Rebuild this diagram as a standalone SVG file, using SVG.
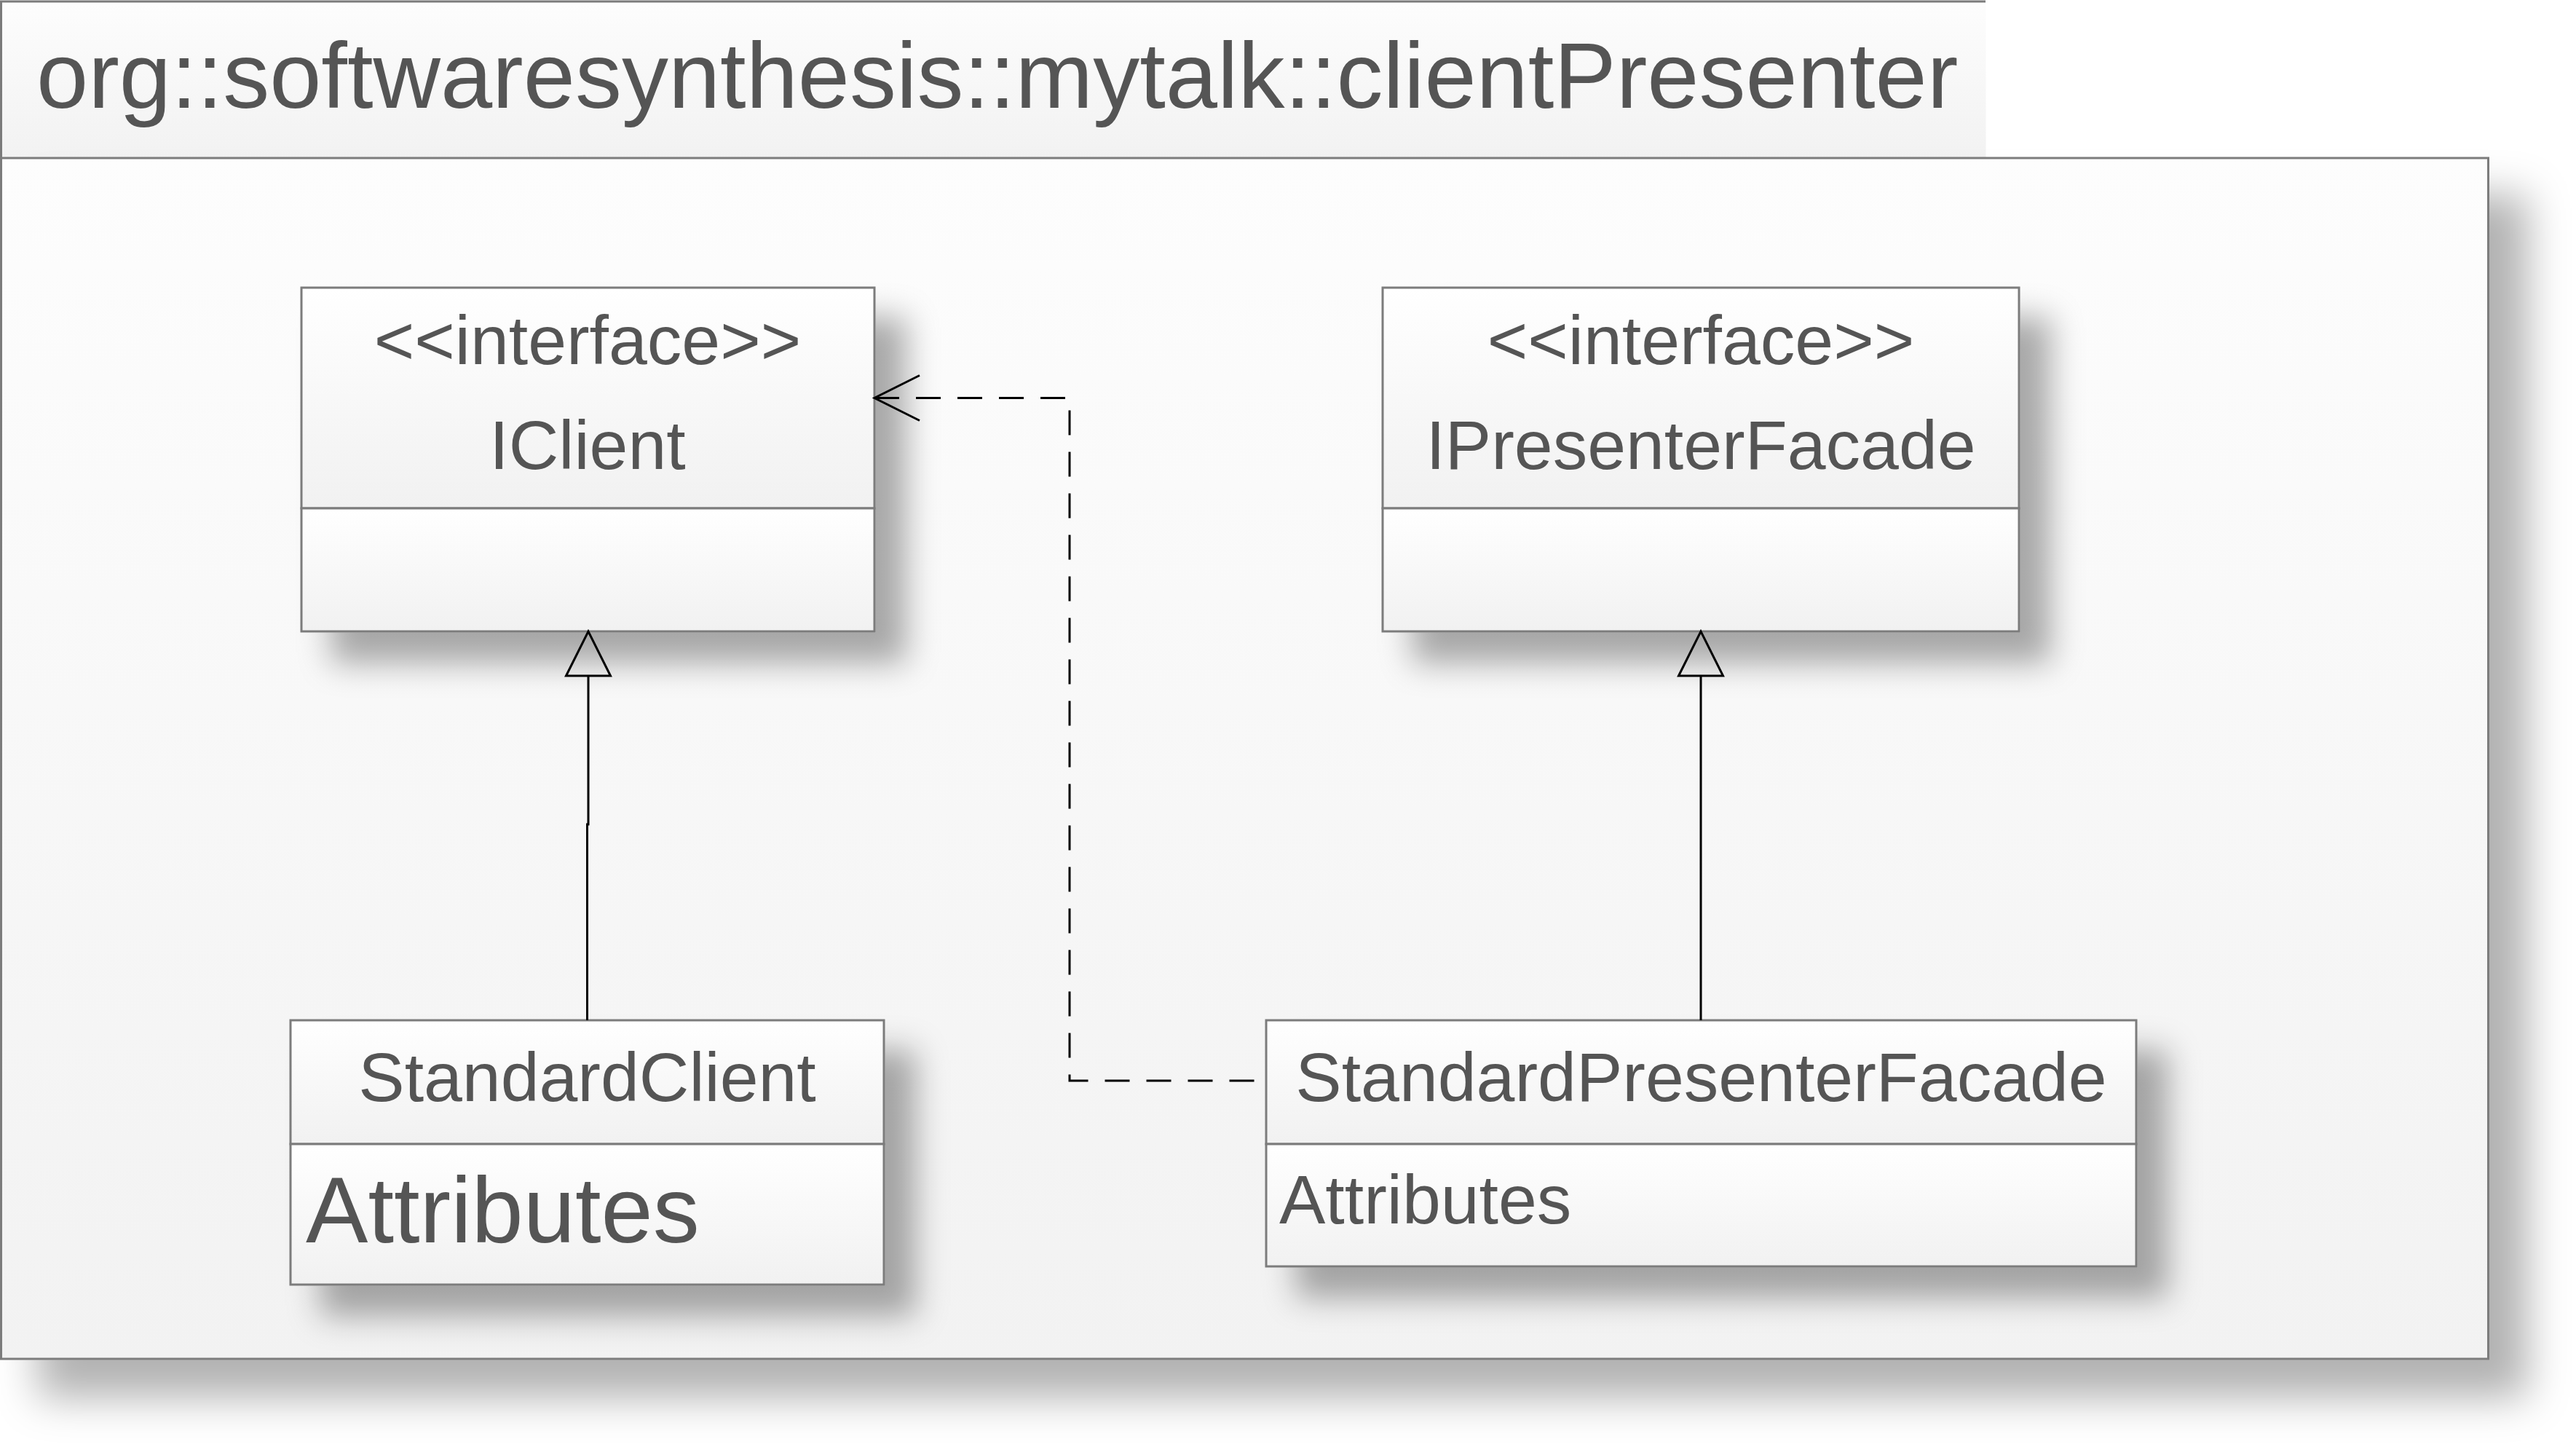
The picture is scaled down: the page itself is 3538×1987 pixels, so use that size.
<svg xmlns="http://www.w3.org/2000/svg" width="3538" height="1987" viewBox="0 0 3538 1987">
<defs>
  <style>
    .t { font-family: "Liberation Sans", Arial, sans-serif; fill: #555555; }
    .c { text-anchor: middle; font-size: 95px; }
    .box { fill: url(#gbox); stroke: #7b7b7b; stroke-width: 3; }
    .conn { fill: none; stroke: #000; stroke-width: 3; }
  </style>
  <linearGradient id="gbox" x1="0" y1="0" x2="0" y2="1">
    <stop offset="0" stop-color="#ffffff"/>
    <stop offset="1" stop-color="#f1f1f1"/>
  </linearGradient>
  <linearGradient id="gpkg" x1="0" y1="0" x2="0" y2="1">
    <stop offset="0" stop-color="#fdfdfd"/>
    <stop offset="1" stop-color="#f2f2f2"/>
  </linearGradient>
  <filter id="shBox" x="-20%" y="-20%" width="170%" height="200%">
    <feDropShadow dx="42" dy="42" stdDeviation="22" flood-color="#000" flood-opacity="0.33"/>
  </filter>
  <filter id="shPkg" x="-5%" y="-5%" width="115%" height="125%">
    <feDropShadow dx="52" dy="52" stdDeviation="28" flood-color="#000" flood-opacity="0.3"/>
  </filter>
  <marker id="triangle" markerUnits="userSpaceOnUse" viewBox="-3 -34 68 68" markerWidth="68" markerHeight="68" refX="0" refY="0" orient="auto" overflow="visible">
    <path d="M0 -30.5 L61 0 L0 30.5 Z" fill="none" stroke="#000" stroke-width="3" stroke-linejoin="miter"/>
  </marker>
  <marker id="openArrow" markerUnits="userSpaceOnUse" viewBox="-3 -34 68 68" markerWidth="68" markerHeight="68" refX="0" refY="0" orient="auto" overflow="visible">
    <path d="M62 -31 L0 0 L62 31" fill="none" stroke="#000" stroke-width="3"/>
  </marker>
</defs>

<rect x="0" y="0" width="3538" height="1987" fill="#ffffff"/>

<g id="package">
  <rect x="1.5" y="2" width="2726" height="215" fill="url(#gpkg)"/>
  <path d="M1.5 217 V2 H2727" fill="none" stroke="#7b7b7b" stroke-width="3"/>
  <rect x="1.5" y="217" width="3416" height="1649" fill="url(#gpkg)" stroke="#7b7b7b" stroke-width="3" filter="url(#shPkg)"/>
  <text class="t" x="50" y="148" font-size="128">org::softwaresynthesis::mytalk::clientPresenter</text>
</g>

<g id="IClient">
  <g filter="url(#shBox)">
    <rect class="box" x="414" y="395" width="787" height="303"/>
    <rect class="box" x="414" y="698" width="787" height="169"/>
  </g>
  <text class="t c" x="807" y="500">&lt;&lt;interface&gt;&gt;</text>
  <text class="t c" x="807" y="644">IClient</text>
</g>

<g id="IPresenterFacade">
  <g filter="url(#shBox)">
    <rect class="box" x="1899" y="395" width="874" height="303"/>
    <rect class="box" x="1899" y="698" width="874" height="169"/>
  </g>
  <text class="t c" x="2336" y="500">&lt;&lt;interface&gt;&gt;</text>
  <text class="t c" x="2336" y="644">IPresenterFacade</text>
</g>

<g id="StandardClient">
  <g filter="url(#shBox)">
    <rect class="box" x="399" y="1401" width="815" height="170"/>
    <rect class="box" x="399" y="1571" width="815" height="193"/>
  </g>
  <text class="t c" x="806.5" y="1512">StandardClient</text>
  <text class="t" x="420" y="1706" font-size="128">Attributes</text>
</g>

<g id="StandardPresenterFacade">
  <g filter="url(#shBox)">
    <rect class="box" x="1739" y="1401" width="1195" height="170"/>
    <rect class="box" x="1739" y="1571" width="1195" height="168"/>
  </g>
  <text class="t c" x="2336.5" y="1512">StandardPresenterFacade</text>
  <text class="t" x="1757" y="1680" font-size="95">Attributes</text>
</g>

<g id="connectors">
  <path class="conn" d="M806.5 1401 V1132 H808 V928" marker-end="url(#triangle)"/>
  <path class="conn" d="M2336 1401 V928" marker-end="url(#triangle)"/>
  <path class="conn" d="M1201 546.5 H1469 V1484 H1738" stroke-dasharray="34 23" marker-start="url(#openArrow)"/>
</g>
</svg>
